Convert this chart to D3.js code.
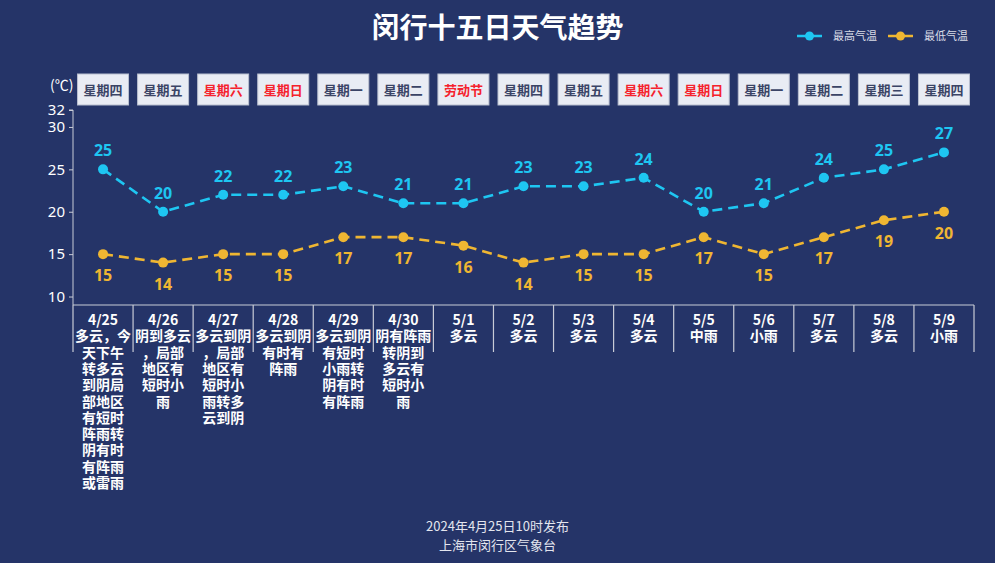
<!DOCTYPE html>
<html><head><meta charset="utf-8">
<script src="https://cdn.jsdelivr.net/npm/d3@7"></script>
<style>
html,body{margin:0;padding:0;background:#253468;}
svg{display:block;font-family:"Noto Sans CJK SC","Noto Sans",sans-serif;}
</style></head>
<body><svg id="c" width="995" height="563"></svg>
<script>
const dates = ["4/25","4/26","4/27","4/28","4/29","4/30","5/1","5/2","5/3","5/4","5/5","5/6","5/7","5/8","5/9"];
const weekdays = ["星期四","星期五","星期六","星期日","星期一","星期二","劳动节","星期四","星期五","星期六","星期日","星期一","星期二","星期三","星期四"];
const holidays = [false,false,true,true,false,false,true,false,false,true,true,false,false,false,false];
const weather = [
  "多云，今\n天下午\n转多云\n到阴局\n部地区\n有短时\n阵雨转\n阴有时\n有阵雨\n或雷雨",
  "阴到多云\n，局部\n地区有\n短时小\n雨",
  "多云到阴\n，局部\n地区有\n短时小\n雨转多\n云到阴",
  "多云到阴\n有时有\n阵雨",
  "多云到阴\n有短时\n小雨转\n阴有时\n有阵雨",
  "阴有阵雨\n转阴到\n多云有\n短时小\n雨",
  "多云","多云","多云","多云","中雨","小雨","多云","多云","小雨"
];
const highTemps = [25,20,22,22,23,21,21,23,23,24,20,21,24,25,27];
const lowTemps  = [15,14,15,15,17,17,16,14,15,15,17,15,17,19,20];
const yTicks = [10,15,20,25,30,32];
const seriesNames = ["最高气温","最低气温"];

const svg = d3.select("#c");
const W = 995, H = 563;
const m = {left:73, right:21, top:110, bottom:258};
const hiColor = "#1ec6f2", loColor = "#efb632";
const axisColor = "#c8cbd6";

const x = d3.scaleBand().domain(dates).range([m.left, W - m.right]).padding(0);
const y = d3.scaleLinear().domain([9, 32]).range([H - m.bottom, m.top]);
const cx = d => x(d) + x.bandwidth()/2;

// background
svg.append("rect").attr("width",W).attr("height",H).attr("fill","#253468");

// title
svg.append("text").attr("x", W/2).attr("y", 38).attr("text-anchor","middle")
  .attr("fill","#fff").attr("font-size",28).attr("font-weight","bold").text("闵行十五日天气趋势");

// legend
const legend = [
  {name: seriesNames[0], color: hiColor, x: 797},
  {name: seriesNames[1], color: loColor, x: 888}
];
legend.forEach(l => {
  const g = svg.append("g");
  g.append("line").attr("x1", l.x).attr("x2", l.x+25).attr("y1",36).attr("y2",36)
    .attr("stroke", l.color).attr("stroke-width",2.5);
  g.append("circle").attr("cx", l.x+12.5).attr("cy",36).attr("r",4.5).attr("fill",l.color);
  g.append("text").attr("x", l.x+36).attr("y",40).attr("fill","#d9dce6")
    .attr("font-size",11).text(l.name);
});

// unit
svg.append("text").attr("x", 50).attr("y", 90).attr("fill","#fff").attr("font-size",14).text("(℃)");

// weekday boxes
const wk = svg.append("g");
dates.forEach((d,i) => {
  wk.append("rect").attr("x", cx(d)-25.5).attr("y",74).attr("width",51).attr("height",31)
    .attr("fill","#e9ecf4").attr("stroke","#b9bfcf").attr("stroke-width",1);
  wk.append("text").attr("x", cx(d)).attr("y",94.5).attr("text-anchor","middle")
    .attr("font-size",13).attr("font-weight","bold")
    .attr("fill", holidays[i] ? "#f5222d" : "#3b4466").text(weekdays[i]);
});

// y axis
const yAxis = d3.axisLeft(y).tickValues(yTicks).tickSize(4).tickPadding(4);
const ya = svg.append("g").attr("transform",`translate(${m.left},0)`).call(yAxis);
ya.select(".domain").attr("stroke",axisColor).attr("d",`M-4,${y(32)}H0V${y(9)}`);
ya.selectAll(".tick line").attr("stroke",axisColor);
ya.selectAll(".tick text").attr("fill","#fff").attr("font-size",15)
  .attr("font-family","'Noto Sans',sans-serif");

// x axis
const xAxis = d3.axisBottom(x).tickSize(0).tickFormat("");
const xa = svg.append("g").attr("transform",`translate(0,${y(9)})`).call(xAxis);
xa.select(".domain").attr("stroke",axisColor).attr("stroke-width",1.2).attr("d",`M${m.left},0H${W-m.right}`);
const bounds = dates.map(d => x(d)).concat([x(dates[dates.length-1]) + x.bandwidth()]);
svg.append("g").selectAll("line").data(bounds).join("line")
  .attr("x1", d=>d).attr("x2", d=>d).attr("y1", y(9)).attr("y2", y(9)+47)
  .attr("stroke",axisColor).attr("stroke-width",1.2);

// x labels
const lab = svg.append("g");
dates.forEach((d,i) => {
  const t = lab.append("text").attr("text-anchor","middle").attr("fill","#fff")
    .attr("font-size",14).attr("font-weight","bold");
  const lines = [d].concat(weather[i].split("\n"));
  lines.forEach((s,j) => {
    t.append("tspan").attr("x", cx(d)).attr("y", 325 + j*16.3).text(s);
  });
});

// lines
const line = d3.line().x((v,i)=>cx(dates[i])).y(v=>y(v));
[[highTemps,hiColor,-1],[lowTemps,loColor,1]].forEach(([vals,col,dir]) => {
  svg.append("path").attr("d", line(vals)).attr("fill","none").attr("stroke",col)
    .attr("stroke-width",2.6).attr("stroke-dasharray","10,6");
  svg.append("g").selectAll("circle").data(vals).join("circle")
    .attr("cx",(v,i)=>cx(dates[i])).attr("cy",v=>y(v)).attr("r",5).attr("fill",col);
  svg.append("g").selectAll("text").data(vals).join("text")
    .attr("x",(v,i)=>cx(dates[i])).attr("y",v=>y(v) + (dir<0 ? -13 : 27))
    .attr("text-anchor","middle").attr("fill",col).attr("font-size",16).attr("font-weight","bold")
    .attr("font-family","'Noto Sans',sans-serif").text(v=>v);
});

// footer
svg.append("text").attr("x",W/2).attr("y",531).attr("text-anchor","middle").attr("fill","#e3e5ee")
  .attr("font-size",13).text("2024年4月25日10时发布");
svg.append("text").attr("x",W/2).attr("y",550).attr("text-anchor","middle").attr("fill","#e3e5ee")
  .attr("font-size",13).text("上海市闵行区气象台");
</script></body></html>
